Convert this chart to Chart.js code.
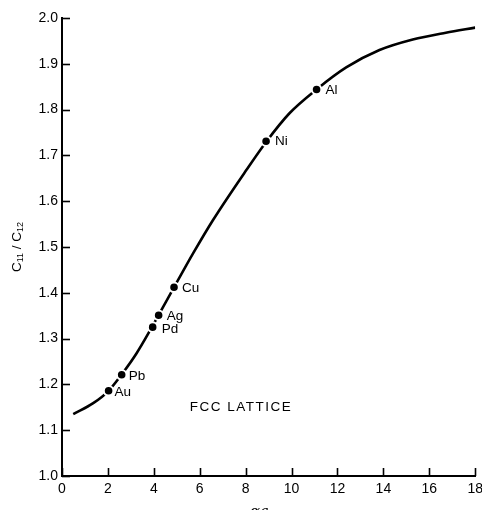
<!DOCTYPE html>
<html><head><meta charset="utf-8">
<script src="https://cdn.jsdelivr.net/npm/chart.js@4/dist/chart.umd.min.js"></script>
<style>html,body{margin:0;padding:0;background:#fff;overflow:hidden}#wrap{width:482px;height:510px;position:relative}</style>
</head><body><div id="wrap"><canvas id="c"></canvas></div>
<script>
// ---- data ----
const curveX = [0.49, 1.36, 2.03, 2.59, 3.25, 4.88, 5.71, 6.58, 8.03, 8.90, 9.91, 11.09, 12.38, 13.83, 15.28, 16.72, 18.0];
const curveY = [1.135, 1.159, 1.186, 1.221, 1.268, 1.412, 1.486, 1.559, 1.668, 1.730, 1.792, 1.844, 1.892, 1.930, 1.953, 1.968, 1.979];
const metalNames = ['Au', 'Pb', 'Pd', 'Ag', 'Cu', 'Ni', 'Al'];
const metalX = [2.03, 2.60, 3.95, 4.21, 4.88, 8.89, 11.09];
const metalY = [1.186, 1.221, 1.325, 1.351, 1.412, 1.731, 1.844];
const xTicks = [0, 2, 4, 6, 8, 10, 12, 14, 16, 18];
const yTicks = [1.0, 1.1, 1.2, 1.3, 1.4, 1.5, 1.6, 1.7, 1.8, 1.9, 2.0];
const xTitle = 'αa';
const yTitleParts = [['C', 0], ['11', 1], [' / ', 0], ['C', 0], ['12', 1]];
const noteText = 'FCC LATTICE';

// ---- styles (label offsets in px) ----
const labelOffset = {Au: [6, 1], Pb: [7, 1], Pd: [9, 2], Ag: [8, 1], Cu: [8, 1], Ni: [9, 0], Al: [9, 1]};
const FONT = '"Liberation Sans", Arial, sans-serif';

const curveData = curveX.map((x, i) => ({x, y: curveY[i]}));
const metalData = metalX.map((x, i) => ({x, y: metalY[i]}));

const decor = {
  id: 'decor',
  afterDraw(chart) {
    const ctx = chart.ctx, xs = chart.scales.x, ys = chart.scales.y, a = chart.chartArea;
    ctx.save();
    // inward ticks
    ctx.strokeStyle = '#000'; ctx.lineWidth = 1.6;
    xs.ticks.forEach((t, i) => {
      const px = Math.round(xs.getPixelForTick(i)) + 0.5;
      ctx.beginPath(); ctx.moveTo(px, a.bottom); ctx.lineTo(px, a.bottom - 8); ctx.stroke();
    });
    ys.ticks.forEach((t, i) => {
      const py = Math.round(ys.getPixelForTick(i)) + 0.5;
      ctx.beginPath(); ctx.moveTo(a.left, py); ctx.lineTo(a.left + 8, py); ctx.stroke();
    });
    // metal labels
    ctx.fillStyle = '#000';
    ctx.font = '13.5px ' + FONT;
    ctx.textBaseline = 'middle'; ctx.textAlign = 'left';
    metalNames.forEach((n, i) => {
      const px = xs.getPixelForValue(metalX[i]), py = ys.getPixelForValue(metalY[i]);
      const o = labelOffset[n];
      ctx.fillText(n, px + o[0], py + o[1]);
    });
    // note
    ctx.letterSpacing = '1.5px';
    ctx.textAlign = 'center';
    ctx.fillText(noteText, xs.getPixelForValue(7.8), ys.getPixelForValue(1.151));
    ctx.letterSpacing = '0px';
    // x title
    ctx.font = 'italic 15px "DejaVu Serif", serif';
    ctx.textBaseline = 'alphabetic';
    ctx.fillText(xTitle, xs.getPixelForValue(8.6), 516);
    // y title (rotated with subscripts)
    const big = '13.5px ' + FONT, small = '9px ' + FONT;
    let w = 0;
    yTitleParts.forEach(p => { ctx.font = p[1] ? small : big; w += ctx.measureText(p[0]).width; });
    ctx.translate(17, (a.top + a.bottom) / 2);
    ctx.rotate(-Math.PI / 2);
    ctx.textAlign = 'left'; ctx.textBaseline = 'middle';
    let cx = -w / 2;
    yTitleParts.forEach(p => {
      ctx.font = p[1] ? small : big;
      ctx.fillText(p[0], cx, p[1] ? 4 : 0);
      cx += ctx.measureText(p[0]).width;
    });
    ctx.restore();
  }
};

new Chart(document.getElementById('c'), {
  type: 'scatter',
  data: {
    datasets: [
      {
        label: 'metals', data: metalData,
        pointRadius: 4.8, pointBackgroundColor: '#000', pointBorderColor: '#fff', pointBorderWidth: 2,
        showLine: false
      },
      {
        label: 'curve', data: curveData, showLine: true,
        borderColor: '#000', borderWidth: 2.6, pointRadius: 0,
        cubicInterpolationMode: 'monotone', fill: false
      }
    ]
  },
  options: {
    responsive: true, maintainAspectRatio: false, animation: false,
    layout: {padding: {top: 18, right: 0, left: 0, bottom: 0}},
    plugins: {legend: {display: false}, tooltip: {enabled: false}},
    scales: {
      x: {
        type: 'linear', min: 0, max: 18,
        afterBuildTicks: s => { s.ticks = xTicks.map(v => ({value: v})); },
        afterFit: s => { s.height = 34; s.paddingRight = 6; s.paddingLeft = 0; },
        grid: {display: false, drawTicks: false},
        border: {display: true, color: '#000', width: 2},
        ticks: {color: '#000', font: {family: FONT, size: 14}, padding: 5, maxRotation: 0,
                callback: v => String(v)}
      },
      y: {
        type: 'linear', min: 1, max: 2,
        afterBuildTicks: s => { s.ticks = yTicks.map(v => ({value: v})); },
        afterFit: s => { s.width = 62; },
        grid: {display: false, drawTicks: false},
        border: {display: true, color: '#000', width: 2},
        ticks: {color: '#000', font: {family: FONT, size: 14}, padding: 4,
                callback: v => Number(v).toFixed(1)}
      }
    }
  },
  plugins: [decor]
});
</script>
</body></html>
